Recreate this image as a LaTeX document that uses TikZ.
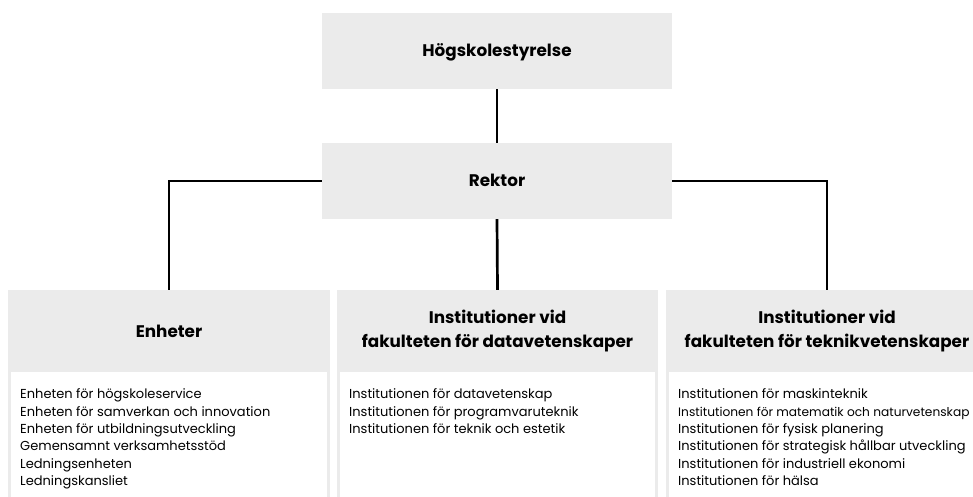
\documentclass[tikz,border=0pt]{standalone}
\usepackage{fontspec}
\setmainfont{Poppins}
\definecolor{boxgray}{HTML}{EBEBEB}
\begin{document}
\begin{tikzpicture}[x=1pt,y=-1pt,
  topbox/.style={fill=boxgray, minimum width=350pt, minimum height=76pt, inner sep=0pt,
    text height=11.5pt, text depth=0pt,
    font=\bfseries\fontsize{16.8}{20}\selectfont},
  headbox/.style={fill=boxgray, minimum width=322pt, minimum height=83pt, inner sep=0pt,
    align=center, font=\bfseries\fontsize{16.8}{24}\selectfont},
  bodybox/.style={fill=white, draw=boxgray, line width=3pt, minimum width=319pt,
    minimum height=140pt, inner sep=0pt, anchor=north},
  listtext/.style={anchor=north west, inner sep=0pt, align=left,
    font=\fontsize{13}{17.4}\selectfont},
  link/.style={line width=2.7pt, black}]
\useasboundingbox (0,0) rectangle (973,497);
\clip (0,0) rectangle (973,497);
% top boxes
\node[topbox] (hs) at (497,51) {Högskolestyrelse};
\node[topbox] (rk) at (497,181) {Rektor};
% column headers
\node[headbox] (h1) at (169,331.5) {Enheter};
\node[headbox, minimum width=321pt] (h2) at (497.5,331.5) {Institutioner vid\\fakulteten för datavetenskaper};
\node[headbox] (h3) at (827,331.5) {Institutioner vid\\fakulteten för teknikvetenskaper};
% column bodies
\node[bodybox] (b1) at (169,368.5) {};
\node[bodybox, minimum width=318pt] (b2) at (497.5,368.5) {};
\node[bodybox] (b3) at (827,368.5) {};
% lists
\node[listtext] (l1) at (20,388.5) {Enheten för högskoleservice\\Enheten för samverkan och innovation\\Enheten för utbildningsutveckling\\Gemensamnt verksamhetsstöd\\Ledningsenheten\\Ledningskansliet};
\node[listtext] (l2) at (349,388.5) {Institutionen för datavetenskap\\Institutionen för programvaruteknik\\Institutionen för teknik och estetik};
\node[listtext] (l3) at (678,388.5) {Institutionen för maskinteknik\\{\fontsize{12.2}{17.4}\selectfont Institutionen för matematik och naturvetenskap}\\Institutionen för fysisk planering\\Institutionen för strategisk hållbar utveckling\\Institutionen för industriell ekonomi\\Institutionen för hälsa};
% connectors
\draw[link] (hs.south) -- (rk.north);
\draw[link] (rk.south) -- (h2.north);
\draw[link] (rk.west) -| (h1.north);
\draw[link] (rk.east) -| (h3.north);
\end{tikzpicture}
\end{document}
